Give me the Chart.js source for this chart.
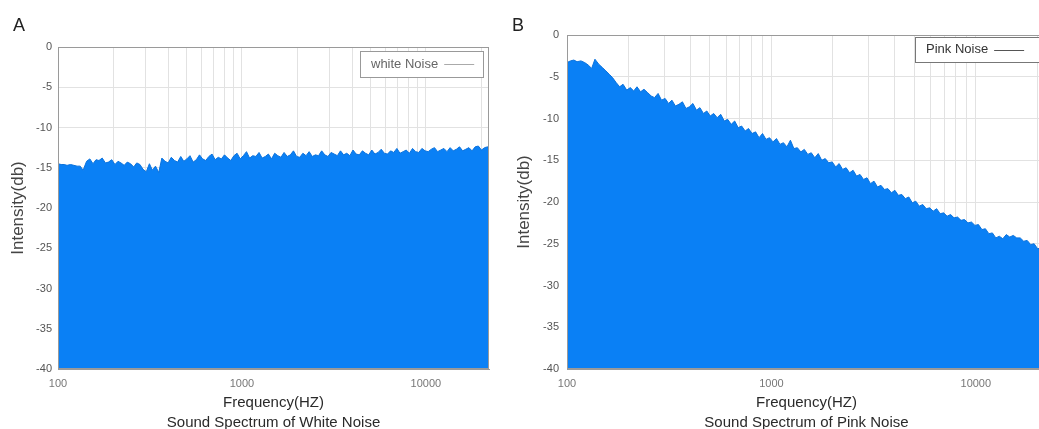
<!DOCTYPE html>
<html lang="en">
<head>
  <meta charset="UTF-8">
  <title>Sound Spectrum of White and Pink Noise</title>
  <script src="https://cdn.jsdelivr.net/npm/chart.js"></script>
  <style>
    body {
      margin: 0;
      width: 1039px;
      height: 429px;
      overflow: hidden;
      background: #fff;
      position: relative;
      font-family: "Liberation Sans", Arial, sans-serif;
    }

    canvas {
      position: absolute;
      top: 0;
    }

    #chartA { left: 0; }
    #chartB { left: 505px; }

    .tag {
      position: absolute;
      top: 16px;
      font-size: 18px;
      line-height: 18px;
      color: #222;
    }
  </style>
</head>
<body>
  <canvas id="chartA" width="505" height="429"></canvas>
  <canvas id="chartB" width="545" height="429"></canvas>
  <div class="tag" style="left:13px">A</div>
  <div class="tag" style="left:512px">B</div>

  <script>
    // frequency bins (Hz), shared by both spectra
    const freqHz = [
      100, 104, 108, 112, 117, 122, 127, 132, 137, 143,
      149, 155, 161, 167, 174, 181, 188, 196, 204, 212,
      220, 229, 238, 248, 258, 268, 279, 290, 302, 314,
      326, 339, 353, 367, 382, 397, 413, 430, 447, 465,
      483, 502, 522, 543, 565, 588, 611, 636, 661, 688,
      715, 744, 773, 804, 837, 870, 905, 941, 979, 1018,
      1059, 1101, 1145, 1191, 1239, 1288, 1340, 1393, 1449, 1507,
      1567, 1630, 1695, 1763, 1834, 1907, 1983, 2063, 2145, 2231,
      2320, 2413, 2510, 2610, 2714, 2823, 2936, 3053, 3176, 3303,
      3435, 3572, 3715, 3864, 4018, 4179, 4346, 4520, 4701, 4889,
      5085, 5288, 5500, 5720, 5948, 6186, 6434, 6691, 6959, 7237,
      7527, 7828, 8141, 8466, 8805, 9157, 9523, 9904, 10300, 10712,
      11141, 11586, 12050, 12532, 13033, 13554, 14096, 14660, 15247, 15857,
      16491, 17150, 17836, 18550, 19292, 20064, 20866, 21701, 22050
    ];

    // white noise intensity (db)
    const whiteDb = [
      -14.5, -14.6, -14.6, -14.7, -14.6, -14.7, -14.8, -14.8, -15.3, -14.2,
      -13.9, -14.5, -14.0, -14.1, -13.8, -14.4, -14.3, -14.0, -14.6, -14.2,
      -14.4, -14.7, -14.3, -14.5, -14.9, -14.4, -14.6, -15.2, -15.5, -14.5,
      -15.3, -14.8, -15.6, -13.8, -14.2, -14.4, -13.7, -14.1, -14.3, -13.6,
      -14.2, -13.9, -13.5, -14.3, -14.0, -13.4, -13.9, -14.1, -13.6, -13.3,
      -14.0, -13.7, -13.9, -13.4, -13.8, -14.1, -13.5, -13.2, -13.9, -13.5,
      -13.0, -13.8, -13.5, -13.6, -13.1, -13.8, -13.6, -13.3, -13.9, -13.2,
      -13.5, -13.7, -13.1, -13.6, -13.4, -12.9, -13.6, -13.7, -13.2, -13.5,
      -13.0, -13.6, -13.4, -13.5, -12.9, -13.4, -13.6, -13.1, -13.3, -13.5,
      -12.9, -13.4, -13.2, -13.5, -12.8, -13.3, -13.4, -12.9, -13.2, -13.4,
      -12.8, -13.3, -13.1, -12.7, -13.2, -13.3, -12.9, -13.1, -12.6, -13.2,
      -13.0, -12.8, -13.2, -12.6, -13.0, -13.1, -12.6, -12.9, -13.0, -12.7,
      -12.5, -13.0, -12.8, -12.6, -13.0, -12.5, -12.9, -12.7, -12.4, -12.9,
      -12.7, -12.5, -12.9, -12.4, -12.3, -12.8, -12.5, -12.4, -12.7
    ];

    // pink noise intensity (db)
    const pinkDb = [
      -3.3, -3.1, -3.0, -3.2, -3.1, -3.3, -3.6, -4.0, -2.9, -3.5,
      -3.9, -4.3, -4.7, -5.1, -5.7, -6.2, -5.9, -6.6, -6.3, -6.7,
      -6.2, -6.8, -6.5, -6.9, -7.3, -7.5, -7.0, -7.8, -7.6, -8.2,
      -7.8, -8.5, -8.3, -8.0, -8.8, -8.6, -8.2, -9.0, -8.7, -9.4,
      -9.1, -9.7, -9.4, -9.9, -9.5, -10.3, -10.1, -10.7, -10.3, -11.1,
      -10.9, -11.5, -11.2, -11.8, -11.6, -12.3, -11.8, -12.5, -12.3, -12.8,
      -12.4, -13.1, -12.9, -13.4, -12.6, -13.6, -13.5, -14.0, -13.7, -14.3,
      -14.1, -14.7, -14.2, -15.0, -14.8, -15.3, -15.2, -15.8, -15.4, -16.1,
      -15.9, -16.5, -16.2, -16.9, -16.7, -17.3, -17.1, -17.8, -17.5, -18.2,
      -18.0, -18.5, -18.4, -18.9, -18.6, -19.2, -19.1, -19.6, -19.4, -20.1,
      -19.9, -20.5, -20.3, -20.8, -20.7, -21.1, -20.8, -21.4, -21.3, -21.7,
      -21.5, -21.9, -21.8, -22.2, -22.1, -22.5, -22.4, -22.8, -22.7, -23.3,
      -23.2, -23.8, -23.7, -24.3, -24.1, -24.4, -23.9, -24.2, -24.0, -24.3,
      -24.3, -24.7, -24.6, -25.1, -25.0, -25.6, -25.5, -25.9, -26.0
    ];

    // log grid lines and the labelled decades
    const gridHz = [
      100, 200, 300, 400, 500, 600, 700, 800, 900,
      1000, 2000, 3000, 4000, 5000, 6000, 7000, 8000, 9000,
      10000, 20000
    ];
    const decadeLabels = [100, 1000, 10000];

    Chart.defaults.font.family = '"Liberation Sans", Arial, sans-serif';

    // plot frame + boxed legend inside the plot area
    const framePlugin = {
      id: 'frame',
      afterDatasetsDraw(chart, args, opts) {
        const { ctx, chartArea: a } = chart;
        ctx.save();
        ctx.lineWidth = 1;
        ctx.strokeStyle = opts.color;
        ctx.strokeRect(a.left + 0.5, a.top + 0.5, a.right - a.left - 1, a.bottom - a.top - 1);

        const lg = opts.legend;
        const x = Math.round(a.right - lg.right - lg.width);
        const y = Math.round(a.top + lg.top);
        ctx.fillStyle = '#fff';
        ctx.fillRect(x, y, lg.width, lg.height);
        ctx.strokeStyle = lg.border;
        ctx.strokeRect(x + 0.5, y + 0.5, lg.width, lg.height);

        const label = chart.data.datasets[0].label;
        const cy = y + lg.height / 2;
        ctx.font = lg.font;
        ctx.fillStyle = lg.textColor;
        ctx.textBaseline = 'middle';
        ctx.fillText(label, x + 11, cy);
        const lx = x + 11 + ctx.measureText(label).width + 6;
        ctx.beginPath();
        ctx.moveTo(lx, Math.round(cy) + 0.5);
        ctx.lineTo(lx + 30, Math.round(cy) + 0.5);
        ctx.strokeStyle = lg.lineColor;
        ctx.stroke();
        ctx.restore();
      }
    };

    function makeChart(id, label, values, subtitle, layout) {
      return new Chart(document.getElementById(id), {
        type: 'line',
        data: {
          datasets: [{
            label: label,
            data: freqHz.map((f, i) => ({ x: f, y: values[i] })),
            borderColor: '#0b72dc',
            backgroundColor: '#0a80f5',
            borderWidth: 1,
            pointRadius: 0,
            tension: 0,
            fill: 'start'
          }]
        },
        options: {
          responsive: false,
          animation: false,
          devicePixelRatio: 1,
          layout: { padding: { top: layout.top, right: layout.right, left: 0, bottom: 0 } },
          plugins: {
            legend: { display: false },
            tooltip: { enabled: false },
            frame: { color: '#9a9a9a', legend: layout.legend }
          },
          scales: {
            x: {
              type: 'logarithmic',
              min: 100,
              max: 22050,
              afterBuildTicks: (scale) => {
                scale.ticks = gridHz.map(v => ({ value: v }));
              },
              afterFit: (scale) => { scale.height = 60; },
              grid: { color: '#e2e2e2', drawTicks: false },
              border: { color: '#9a9a9a' },
              ticks: {
                autoSkip: false,
                maxRotation: 0,
                padding: 8,
                color: '#777',
                font: { size: 11 },
                callback: (v) => decadeLabels.includes(v) ? String(v) : ''
              },
              title: {
                display: true,
                text: ['Frequency(HZ)', subtitle],
                color: '#2a2a2a',
                font: { size: 15, lineHeight: '20px' },
                padding: { top: 0, bottom: -4 }
              }
            },
            y: {
              min: -40,
              max: 0,
              afterFit: (scale) => { scale.width = layout.yWidth; },
              grid: { color: '#e2e2e2', drawTicks: false },
              border: { color: '#9a9a9a' },
              ticks: {
                stepSize: 5,
                padding: layout.tickPad,
                color: '#555',
                font: { size: 11 }
              },
              title: {
                display: true,
                text: 'Intensity(db)',
                color: '#444',
                font: { size: 17 },
                padding: { top: layout.titlePad, bottom: 0 }
              }
            }
          }
        },
        plugins: [framePlugin]
      });
    }

    makeChart('chartA', 'white Noise', whiteDb, 'Sound Spectrum of White Noise', {
      top: 47, right: 16, yWidth: 58, tickPad: 6, titlePad: 8,
      legend: { top: 4, right: 6, width: 123, height: 26, font: '13px "Liberation Sans", Arial, sans-serif',
                textColor: '#666', lineColor: '#aaa', border: '#999' }
    });

    makeChart('chartB', 'Pink Noise', pinkDb, 'Sound Spectrum of Pink Noise', {
      top: 35, right: 4, yWidth: 62, tickPad: 8, titlePad: 9,
      legend: { top: 2, right: 6, width: 125, height: 25, font: '13px "Liberation Sans", Arial, sans-serif',
                textColor: '#333', lineColor: '#555', border: '#777' }
    });
  </script>
</body>
</html>
